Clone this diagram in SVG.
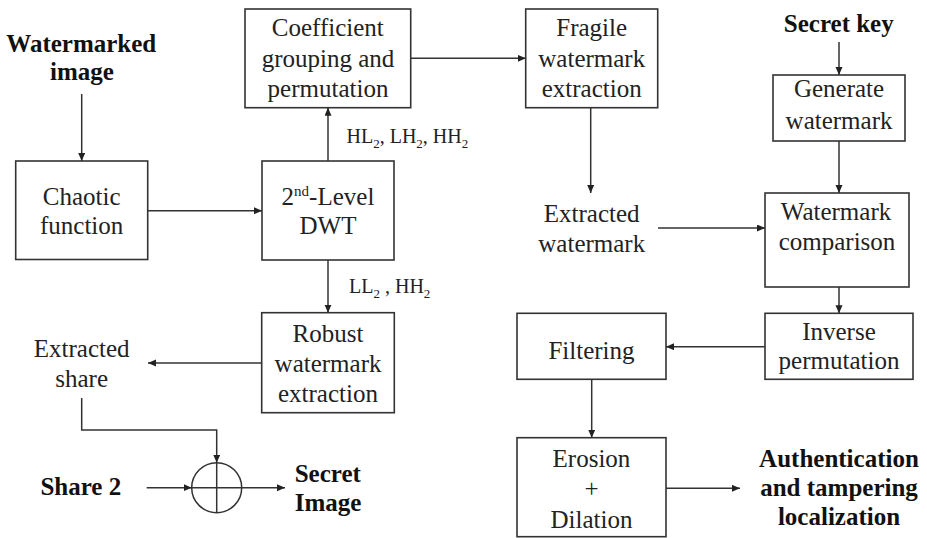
<svg xmlns="http://www.w3.org/2000/svg" width="927" height="538" viewBox="0 0 927 538">
<style>
  .nodebox { fill: #fff; stroke: #333; stroke-width: 1.6; }
  .conn { fill: none; stroke: #333; stroke-width: 1.5; }
</style>
<defs>
  <marker id="ah" markerUnits="userSpaceOnUse" markerWidth="9" markerHeight="8" refX="8" refY="3.5" orient="auto">
    <path d="M0,0 L8,3.5 L0,7 z" fill="#222"/>
  </marker>
</defs>
<rect width="927" height="538" fill="#fff"/>

<g id="watermarked-image" font-family="Liberation Serif" font-size="25" font-weight="bold" fill="#111">
  <text x="6.3" y="52">Watermarked</text>
  <text x="50.1" y="80">image</text>
</g>
<g id="chaotic" font-family="Liberation Serif" font-size="25" fill="#222">
  <rect class="nodebox" x="15.7" y="161" width="132" height="98.5"/>
  <text x="42.8" y="205">Chaotic</text>
  <text x="40" y="233.5">function</text>
</g>
<g id="dwt" font-family="Liberation Serif" font-size="25" fill="#222">
  <rect class="nodebox" x="262" y="161" width="132" height="99"/>
  <text x="281.6" y="205">2<tspan font-size="15" dy="-9">nd</tspan><tspan dy="9">-Level</tspan></text>
  <text x="299.5" y="233.5">DWT</text>
</g>
<g id="coefficient" font-family="Liberation Serif" font-size="25" fill="#222">
  <rect class="nodebox" x="245" y="9" width="165.7" height="98.7"/>
  <text x="271.8" y="36">Coefficient</text>
  <text x="261.7" y="67">grouping and</text>
  <text x="267.6" y="97">permutation</text>
</g>
<g id="fragile" font-family="Liberation Serif" font-size="25" fill="#222">
  <rect class="nodebox" x="525.7" y="9" width="132" height="98.7"/>
  <text x="556.3" y="36">Fragile</text>
  <text x="538.3" y="67">watermark</text>
  <text x="541.7" y="97">extraction</text>
</g>
<g id="robust" font-family="Liberation Serif" font-size="25" fill="#222">
  <rect class="nodebox" x="261.7" y="312.7" width="132.6" height="100"/>
  <text x="292.6" y="342">Robust</text>
  <text x="274.6" y="372">watermark</text>
  <text x="278" y="402">extraction</text>
</g>
<g id="extracted-share" font-family="Liberation Serif" font-size="25" fill="#222">
  <text x="33.8" y="357">Extracted</text>
  <text x="55.3" y="387">share</text>
</g>
<g id="xor">
  <circle class="conn" cx="216.7" cy="487.7" r="25"/>
  <line class="conn" x1="191.7" y1="487.7" x2="241.7" y2="487.7"/>
  <line class="conn" x1="216.7" y1="462.7" x2="216.7" y2="512.7"/>
</g>
<g id="share2" font-family="Liberation Serif" font-size="25" font-weight="bold" fill="#111">
  <text x="40.4" y="495">Share 2</text>
</g>
<g id="secret-image" font-family="Liberation Serif" font-size="25" font-weight="bold" fill="#111">
  <text x="294.7" y="482">Secret</text>
  <text x="294.7" y="510.5">Image</text>
</g>
<g id="secret-key" font-family="Liberation Serif" font-size="25" font-weight="bold" fill="#111">
  <text x="783.8" y="32">Secret key</text>
</g>
<g id="generate" font-family="Liberation Serif" font-size="25" fill="#222">
  <rect class="nodebox" x="773" y="75" width="132" height="66"/>
  <text x="793.9" y="97">Generate</text>
  <text x="785.6" y="128.5">watermark</text>
</g>
<g id="extracted-watermark" font-family="Liberation Serif" font-size="25" fill="#222">
  <text x="543.8" y="222">Extracted</text>
  <text x="538.3" y="252">watermark</text>
</g>
<g id="comparison" font-family="Liberation Serif" font-size="25" fill="#222">
  <rect class="nodebox" x="765" y="193" width="144" height="94"/>
  <text x="780.8" y="220">Watermark</text>
  <text x="778.7" y="250">comparison</text>
</g>
<g id="inverse" font-family="Liberation Serif" font-size="25" fill="#222">
  <rect class="nodebox" x="765" y="313.3" width="148" height="66"/>
  <text x="802.2" y="340">Inverse</text>
  <text x="778.6" y="368.5">permutation</text>
</g>
<g id="filtering" font-family="Liberation Serif" font-size="25" fill="#222">
  <rect class="nodebox" x="517" y="313.3" width="149" height="66"/>
  <text x="548.4" y="358.5">Filtering</text>
</g>
<g id="erosion" font-family="Liberation Serif" font-size="25" fill="#222">
  <rect class="nodebox" x="517" y="437.7" width="149" height="99"/>
  <text x="552.6" y="467">Erosion</text>
  <text x="584.5" y="497">+</text>
  <text x="550.5" y="528">Dilation</text>
</g>
<g id="authentication" font-family="Liberation Serif" font-size="25" font-weight="bold" fill="#111">
  <text x="759.1" y="467">Authentication</text>
  <text x="760.2" y="496">and tampering</text>
  <text x="777.9" y="525">localization</text>
</g>
<g id="labels" font-family="Liberation Serif" font-size="20" fill="#222">
  <text x="346.5" y="143">HL<tspan font-size="13" dy="5">2</tspan><tspan dy="-5">, LH</tspan><tspan font-size="13" dy="5">2</tspan><tspan dy="-5">, HH</tspan><tspan font-size="13" dy="5">2</tspan></text>
  <text x="349" y="293">LL<tspan font-size="13" dy="5">2</tspan><tspan dy="-5"> , HH</tspan><tspan font-size="13" dy="5">2</tspan></text>
</g>

<g id="connectors">
  <line class="conn" x1="81.7" y1="94" x2="81.7" y2="161" marker-end="url(#ah)"/>
  <line class="conn" x1="147.7" y1="210.7" x2="262" y2="210.7" marker-end="url(#ah)"/>
  <line class="conn" x1="328" y1="161" x2="328" y2="107.7" marker-end="url(#ah)"/>
  <line class="conn" x1="410.7" y1="58.3" x2="525.7" y2="58.3" marker-end="url(#ah)"/>
  <line class="conn" x1="328" y1="260" x2="328" y2="312.7" marker-end="url(#ah)"/>
  <line class="conn" x1="261.7" y1="363" x2="148" y2="363" marker-end="url(#ah)"/>
  <polyline class="conn" points="81.7,398 81.7,430 216.7,430 216.7,462.7" marker-end="url(#ah)"/>
  <line class="conn" x1="146.7" y1="487.7" x2="191.7" y2="487.7" marker-end="url(#ah)"/>
  <line class="conn" x1="241.7" y1="487.7" x2="285" y2="487.7" marker-end="url(#ah)"/>
  <line class="conn" x1="590.7" y1="107.7" x2="590.7" y2="193" marker-end="url(#ah)"/>
  <line class="conn" x1="658" y1="228" x2="765" y2="228" marker-end="url(#ah)"/>
  <line class="conn" x1="839" y1="42" x2="839" y2="75" marker-end="url(#ah)"/>
  <line class="conn" x1="839" y1="141" x2="839" y2="193" marker-end="url(#ah)"/>
  <line class="conn" x1="839" y1="287" x2="839" y2="313.3" marker-end="url(#ah)"/>
  <line class="conn" x1="765" y1="346.7" x2="666" y2="346.7" marker-end="url(#ah)"/>
  <line class="conn" x1="591.7" y1="379.3" x2="591.7" y2="437.7" marker-end="url(#ah)"/>
  <line class="conn" x1="666" y1="488.3" x2="740" y2="488.3" marker-end="url(#ah)"/>
</g>
</svg>
